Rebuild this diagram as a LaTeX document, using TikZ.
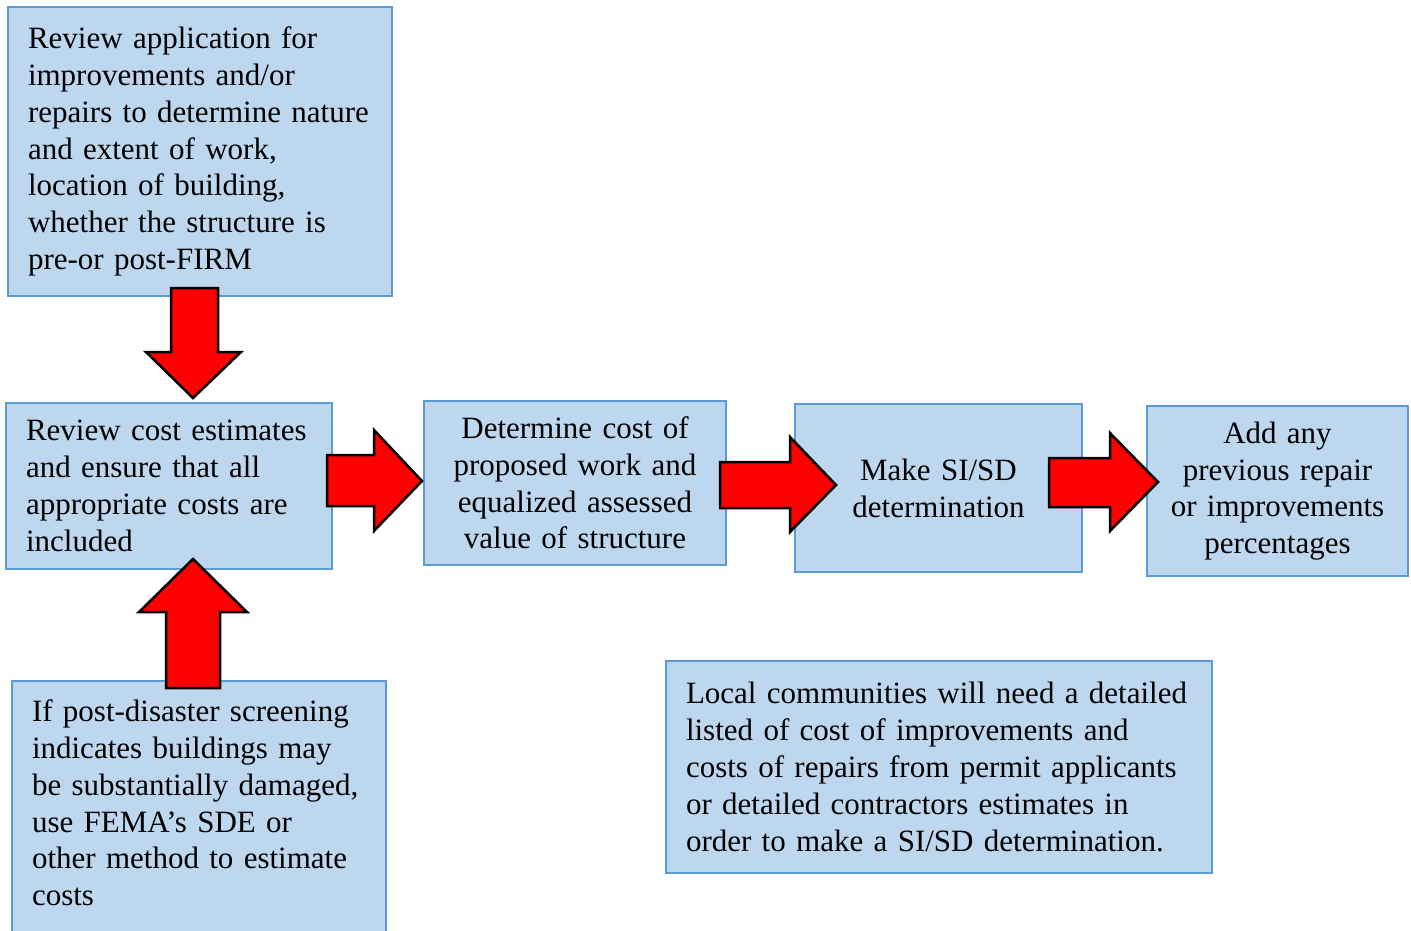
\documentclass[tikz,border=0pt]{standalone}
\usepackage{fontspec}
\setmainfont{Liberation Serif}
\definecolor{boxfill}{RGB}{189,215,238}
\definecolor{boxline}{RGB}{91,155,213}
\hyphenpenalty=10000
\exhyphenpenalty=10000
\begin{document}
\begin{tikzpicture}[x=1pt,y=-1pt,
  box/.style={draw=boxline, fill=boxfill, line width=1.5pt, inner sep=0pt,
    font=\fontsize{31}{36.8}\selectfont},
  ltext/.style={align=left},
  ctext/.style={align=center},
  blockarrow/.style={fill=red, draw=black, line width=2.5pt, line join=miter}]
\useasboundingbox (0,0) rectangle (1411,930);
% boxes
\node[box, minimum width=384pt, minimum height=289pt, text width=344pt, ltext] (a) at (200,151.5)
  {Review application for\\improvements and/or\\repairs to determine nature\\and extent of work,\\location of building,\\whether the structure is\\pre-or post-FIRM};
\node[box, minimum width=326pt, minimum height=166pt, text width=286pt, ltext] (b) at (169,486)
  {Review cost estimates\\and ensure that all\\appropriate costs are\\included};
\node[box, minimum width=302pt, minimum height=164pt, text width=300pt, ctext] (c) at (575,483)
  {Determine cost of\\proposed work and\\equalized assessed\\value of structure};
\node[box, minimum width=287pt, minimum height=168pt, text width=280pt, ctext] (d) at (938.5,488)
  {Make SI/SD\\determination};
\node[box, minimum width=261pt, minimum height=170pt, text width=258pt, ctext] (e) at (1277.5,491)
  {Add any\\previous repair\\or improvements\\percentages};
\node[box, minimum width=374pt, minimum height=260pt] (f) at (199,811) {};
\node[font=\fontsize{31}{36.8}\selectfont, text width=334pt, ltext, inner sep=0pt] (ft) at (199,803)
  {If post-disaster screening\\indicates buildings may\\be substantially damaged,\\use FEMA’s SDE or\\other method to estimate\\costs};
\node[box, minimum width=546pt, minimum height=212pt, text width=506pt, ltext] (g) at (939,767)
  {Local communities will need a detailed\\listed of cost of improvements and\\costs of repairs from permit applicants\\or detailed contractors estimates in\\order to make a SI/SD determination.};
% block arrows
\draw[blockarrow] (171,288) -- (218,288) -- (218,352) -- (241,352) -- (193,398) -- (146,352) -- (171,352) -- cycle;
\draw[blockarrow] (327,455) -- (374,455) -- (374,430) -- (422,481) -- (374,531) -- (374,506) -- (327,506) -- cycle;
\draw[blockarrow] (720,462) -- (790,462) -- (790,437) -- (836,485) -- (790,532) -- (790,508) -- (720,508) -- cycle;
\draw[blockarrow] (1049,458) -- (1110,458) -- (1110,433) -- (1158,482) -- (1110,531) -- (1110,507) -- (1049,507) -- cycle;
\draw[blockarrow] (166,688) -- (166,612) -- (139,612) -- (193,559) -- (247,612) -- (220,612) -- (220,688) -- cycle;
\end{tikzpicture}
\end{document}
